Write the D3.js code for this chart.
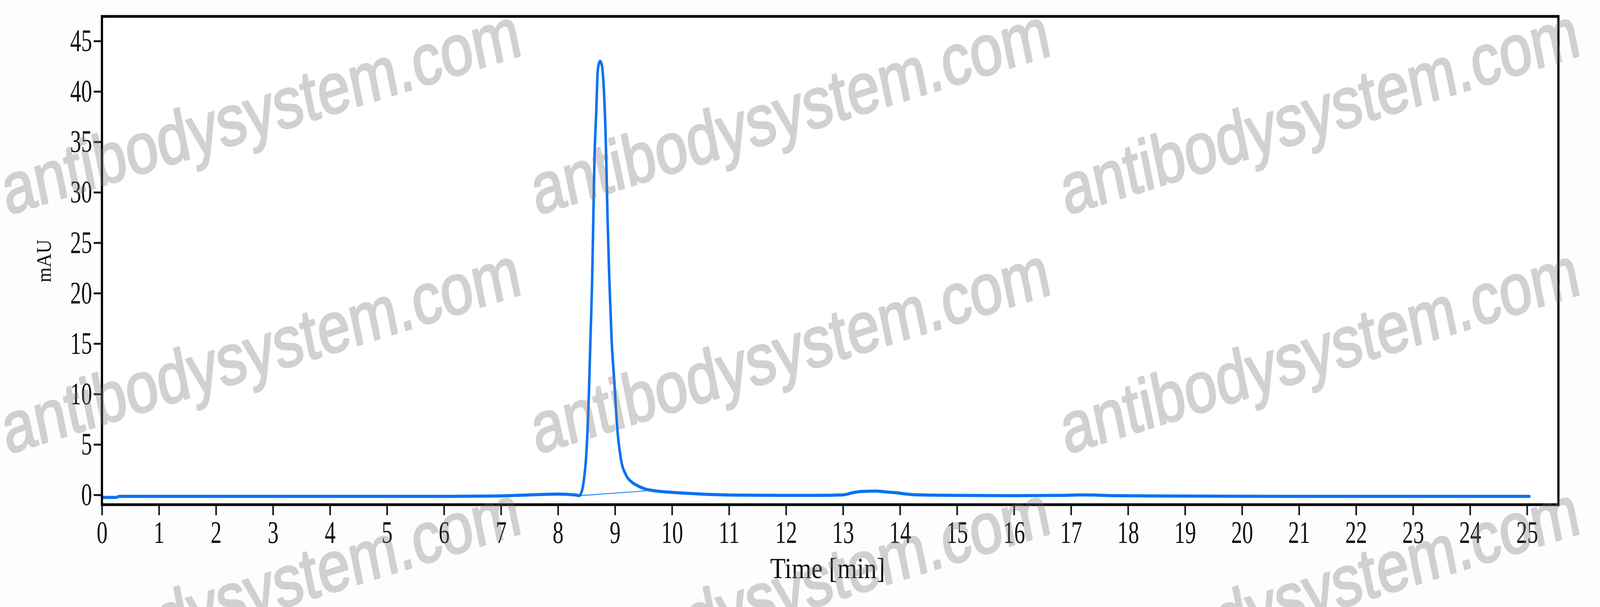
<!DOCTYPE html>
<html>
<head>
<meta charset="utf-8">
<script src="https://cdn.jsdelivr.net/npm/d3@7"></script>
<style>
  html, body { margin: 0; padding: 0; background: #fdfdfd; width: 100%; height: 100%; overflow: hidden; }
  svg { display: block; width: 100vw; height: 100vh; }
</style>
</head>
<body>
<svg id="chart"></svg>
<script>
// chromatogram trace
const timeMin = [0, 0.25, 0.3, 2, 4, 6, 7, 7.5, 8.0, 8.3, 8.37, 8.42, 8.45, 8.5, 8.54, 8.57, 8.6,
  8.62, 8.64, 8.67, 8.70, 8.74, 8.77, 8.80, 8.84, 8.87, 8.90, 8.94, 8.99, 9.04, 9.10, 9.20, 9.3,
  9.4, 9.52, 9.7, 10.0, 10.24, 10.6, 11.1, 11.95, 12.5, 13.0, 13.2, 13.35, 13.57, 13.75, 13.91,
  14.25, 15, 16, 16.8, 17.2, 17.8, 19, 21, 23, 25.04];
const mAU = [-0.25, -0.25, -0.15, -0.15, -0.15, -0.15, -0.1, 0.0, 0.08, 0.0, -0.08, 0.4, 1.3,
  4.3, 9.6, 15.5, 21.5, 27.4, 33.3, 37.8, 42.2, 43.0, 42.6, 40.7, 34.8, 27.4, 21.5, 15.5, 11.1,
  6.6, 3.7, 1.9, 1.25, 0.9, 0.6, 0.4, 0.25, 0.16, 0.06, -0.02, -0.05, -0.05, 0.0, 0.25, 0.35,
  0.38, 0.3, 0.22, 0.02, -0.05, -0.08, -0.05, 0.0, -0.08, -0.12, -0.15, -0.15, -0.15];

// integration baseline under the main peak
const baseTime = [8.37, 9.55];
const baseMAU = [-0.08, 0.4];

const xTicks = d3.range(0, 26, 1);
const yTicks = [0, 5, 10, 15, 20, 25, 30, 35, 40, 45];
const xTitle = "Time [min]";
const yTitle = "mAU";
const watermark = "antibodysystem.com";

const W = 5038, H = 1554;
const plotLeft = 321, plotRight = 4907, plotTop = 42, plotBottom = 1292;

const svg = d3.select("#chart")
    .attr("viewBox", `0 0 ${W} ${H}`)
    .attr("preserveAspectRatio", "none");

svg.append("rect").attr("width", W).attr("height", H).attr("fill", "#fdfdfd");
svg.append("rect")
    .attr("x", plotLeft).attr("y", plotTop)
    .attr("width", plotRight - plotLeft).attr("height", plotBottom - plotTop)
    .attr("fill", "#ffffff");

const x = d3.scaleLinear().domain([0, 25.55]).range([plotLeft, plotRight]);
const y = d3.scaleLinear().domain([-0.97, 47.44]).range([plotBottom, plotTop]);

// axes
const squeeze = 0.86;
const xAxis = svg.append("g")
    .attr("transform", `translate(0,${plotBottom})`)
    .call(d3.axisBottom(x).tickValues(xTicks).tickSize(27).tickPadding(14).tickFormat(d3.format("d")));
const yAxis = svg.append("g")
    .attr("transform", `translate(${plotLeft},0)`)
    .call(d3.axisLeft(y).tickValues(yTicks).tickSize(26).tickPadding(5).tickFormat(d3.format("d")));

[xAxis, yAxis].forEach(ax => {
    ax.select(".domain").remove();
    ax.selectAll(".tick line").attr("stroke", "#0c1a2c").attr("stroke-width", 5);
    ax.selectAll(".tick text")
        .attr("fill", "#111")
        .style("font-family", "'Liberation Serif', serif")
        .style("font-size", "80px");
});
// tall, narrow digits like the original
yAxis.selectAll(".tick text")
    .attr("x", -31 / squeeze)
    .attr("transform", `scale(${squeeze},1)`);
xAxis.selectAll(".tick text")
    .attr("transform", `scale(${squeeze},1)`);

// trace
const line = d3.line()
    .x((d, i) => x(timeMin[i]))
    .y(d => y(d))
    .curve(d3.curveMonotoneX);

svg.append("path")
    .datum(baseMAU)
    .attr("d", d3.line().x((d, i) => x(baseTime[i])).y(d => y(d)))
    .attr("fill", "none")
    .attr("stroke", "#4a9af5")
    .attr("stroke-width", 3);

svg.append("path")
    .datum(mAU)
    .attr("d", line)
    .attr("fill", "none")
    .attr("stroke", "#0a72f2")
    .attr("stroke-width", 8)
    .attr("stroke-linejoin", "round")
    .attr("stroke-linecap", "round");

// frame
svg.append("rect")
    .attr("x", plotLeft).attr("y", plotTop)
    .attr("width", plotRight - plotLeft).attr("height", plotBottom - plotTop)
    .attr("fill", "none")
    .attr("stroke", "#000")
    .attr("stroke-width", 7);

// titles
svg.append("text")
    .attr("x", (plotLeft + plotRight) / 2 - 8)
    .attr("y", 1480)
    .attr("text-anchor", "middle")
    .attr("textLength", 362)
    .attr("lengthAdjust", "spacingAndGlyphs")
    .style("font-family", "'Liberation Serif', serif")
    .style("font-size", "74px")
    .attr("fill", "#111")
    .text(xTitle);

svg.append("text")
    .attr("transform", `translate(160,668) rotate(-90)`)
    .attr("text-anchor", "middle")
    .attr("textLength", 110)
    .attr("lengthAdjust", "spacingAndGlyphs")
    .style("font-family", "'Liberation Serif', serif")
    .style("font-size", "66px")
    .attr("fill", "#111")
    .text(yTitle);

// watermark grid on top
const wmCols = [23, 1690, 3357];
const wmRows = [551, 1163, 1775];
const wm = svg.append("g").attr("opacity", 0.34);
wmRows.forEach(wy => {
    wmCols.forEach(wx => {
        wm.append("text")
            .attr("transform", `translate(${wx},${wy}) rotate(-14.2)`)
            .style("font-family", "'Liberation Sans', Arial, sans-serif")
            .style("font-size", "184px")
            .attr("fill", "#777")
            .attr("stroke", "#777")
            .attr("stroke-width", 5)
            .attr("stroke-linejoin", "round")
            .text(watermark);
    });
});
</script>
</body>
</html>
